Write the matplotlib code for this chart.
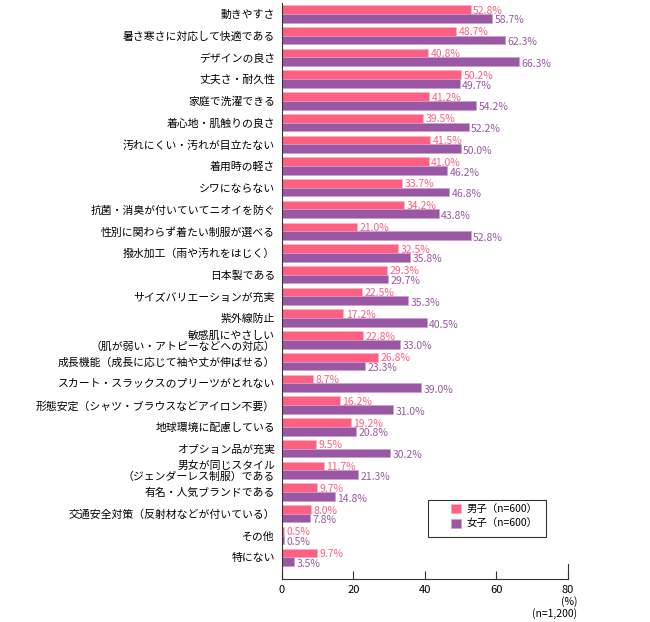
import numpy as np
import matplotlib.pyplot as plt
from matplotlib.patches import Rectangle

plt.rcParams['font.family'] = ['Noto Sans CJK JP', 'DejaVu Sans']

categories = [
    "動きやすさ",
    "暑さ寒さに対応して快適である",
    "デザインの良さ",
    "丈夫さ・耐久性",
    "家庭で洗濯できる",
    "着心地・肌触りの良さ",
    "汚れにくい・汚れが目立たない",
    "着用時の軽さ",
    "シワにならない",
    "抗菌・消臭が付いていてニオイを防ぐ",
    "性別に関わらず着たい制服が選べる",
    "撥水加工（雨や汚れをはじく）",
    "日本製である",
    "サイズバリエーションが充実",
    "紫外線防止",
    "敏感肌にやさしい\n（肌が弱い・アトピーなどへの対応）",
    "成長機能（成長に応じて袖や丈が伸ばせる）",
    "スカート・スラックスのプリーツがとれない",
    "形態安定（シャツ・ブラウスなどアイロン不要）",
    "地球環境に配慮している",
    "オプション品が充実",
    "男女が同じスタイル\n（ジェンダーレス制服）である",
    "有名・人気ブランドである",
    "交通安全対策（反射材などが付いている）",
    "その他",
    "特にない",
]
male = [52.8, 48.7, 40.8, 50.2, 41.2, 39.5, 41.5, 41.0, 33.7, 34.2, 21.0, 32.5,
        29.3, 22.5, 17.2, 22.8, 26.8, 8.7, 16.2, 19.2, 9.5, 11.7, 9.7, 8.0, 0.5, 9.7]
female = [58.7, 62.3, 66.3, 49.7, 54.2, 52.2, 50.0, 46.2, 46.8, 43.8, 52.8, 35.8,
          29.7, 35.3, 40.5, 33.0, 23.3, 39.0, 31.0, 20.8, 30.2, 21.3, 14.8, 7.8, 0.5, 3.5]
series_labels = ["男子（n=600）", "女子（n=600）"]
xticks = [0, 20, 40, 60, 80]

pink = "#FF5F80"
purple = "#9A57A4"

fig = plt.figure(figsize=(6.5, 6.22), dpi=100)
ax = fig.add_axes([0.4338, 1 - 579 / 622, 0.44, 576 / 622])

n = len(categories)
y = np.arange(n)
h = 0.40
ax.barh(y - h / 2, male, height=h, color=pink, edgecolor="#FFB0C0", linewidth=0.5, label=series_labels[0])
ax.barh(y + h / 2, female, height=h, color=purple, edgecolor="#C8A0D0", linewidth=0.5, label=series_labels[1])

for i in range(n):
    ax.text(male[i] + 0.7, y[i] - h / 2 + 0.05, f"{male[i]:.1f}%", color=pink,
            fontsize=7.5, va="center", ha="left")
    ax.text(female[i] + 0.7, y[i] + h / 2 + 0.1, f"{female[i]:.1f}%", color=purple,
            fontsize=7.5, va="center", ha="left")

ax.set_xlim(0, 80)
ax.set_ylim(n - 1 + 1.0, -0.5)
ax.set_yticks(y)
ax.set_yticklabels(categories, fontsize=7.8, linespacing=1.0)
ax.tick_params(axis="y", length=0, pad=5)
ax.set_xticks(xticks)
ax.set_xticklabels([str(t) for t in xticks], fontsize=8)
ax.tick_params(axis="x", direction="in", length=6, width=0.8, color="#333333", pad=4)
ax.axvline(80, ymin=0, ymax=15 / 576, color="#333333", linewidth=0.8, clip_on=False)

for s in ["top", "right"]:
    ax.spines[s].set_visible(False)
for s in ["left", "bottom"]:
    ax.spines[s].set_color("#333333")
    ax.spines[s].set_linewidth(0.8)

fig.text(577 / 650, 1 - 602 / 622, "(%)", fontsize=7.5, ha="right", va="center")
fig.text(577 / 650, 1 - 614 / 622, "(n=1,200)", fontsize=7.5, ha="right", va="center")

# legend box drawn separately so the padding can differ horizontally/vertically
ax.add_patch(Rectangle((0.5105, 0.0729), 0.4125, 0.0641, transform=ax.transAxes,
                       facecolor="white", edgecolor="#333333", linewidth=0.8,
                       zorder=4, clip_on=False))
leg = ax.legend(loc="upper left", bbox_to_anchor=(0.59, 0.131), fontsize=7.5,
                frameon=False, handlelength=1.0, handleheight=1.0, handletextpad=0.5,
                borderpad=0, labelspacing=0.5, borderaxespad=0)
leg.set_zorder(5)

fig.savefig("out.png", dpi=100)
